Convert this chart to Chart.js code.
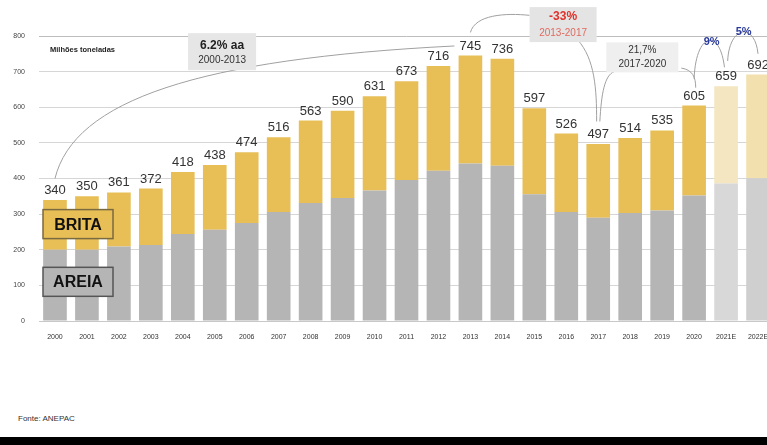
<!DOCTYPE html>
<html>
<head>
<meta charset="utf-8">
<script src="https://cdn.jsdelivr.net/npm/chart.js@4"></script>
<style>
  html, body { margin: 0; padding: 0; background: #fff; overflow: hidden; width: 767px; height: 445px; }
  #wrap { position: absolute; left: 0; top: 0; width: 780px; height: 345px; }
  #fonte { position: absolute; left: 18px; top: 414px; font: 8px "Liberation Sans", Arial, sans-serif; color: #333; }
  #band { position: absolute; left: 0; top: 437px; width: 767px; height: 8px; background: #000; }
</style>
</head>
<body>
<div id="wrap"><canvas id="prod_chart" width="780" height="345"></canvas></div>
<div id="fonte">Fonte: ANEPAC</div>
<div id="band"></div>
<script>
const years = ["2000", "2001", "2002", "2003", "2004", "2005", "2006", "2007", "2008", "2009", "2010",
  "2011", "2012", "2013", "2014", "2015", "2016", "2017", "2018", "2019", "2020", "2021E", "2022E"];
const areia = [200, 200, 209, 213, 244, 256, 275, 306, 331, 345, 366, 396, 422, 442, 436, 356, 306, 290, 303, 310, 352, 386, 401];
const brita = [140, 150, 152, 159, 174, 182, 199, 210, 232, 245, 265, 277, 294, 303, 300, 241, 220, 207, 211, 225, 253, 273, 291];
const totals = [340, 350, 361, 372, 418, 438, 474, 516, 563, 590, 631, 673, 716, 745, 736, 597, 526, 497, 514, 535, 605, 659, 692];
const yTicks = [0, 100, 200, 300, 400, 500, 600, 700, 800];

(function () {
  const FONT = '"Liberation Sans", Arial, sans-serif';

  // estimates (2021E / 2022E) are drawn paler
  const britaColors = years.map((y, i) => i === 21 ? "#f4e6c0" : i === 22 ? "#f2e0ae" : "#e8bf57");
  const areiaColors = years.map((y, i) => i === 21 ? "#d8d8d8" : i === 22 ? "#cfcfcf" : "#b5b5b5");

  const annotations = {
    id: "annotations",
    afterDatasetsDraw(chart) {
      const c = chart.ctx;
      const xs = chart.scales.x, ys = chart.scales.y;
      const step = xs.getPixelForValue(1) - xs.getPixelForValue(0);
      const X = (i) => xs.getPixelForValue(0) + i * step;
      const Y = (v) => ys.getPixelForValue(v);

      // totals above bars
      c.save();
      c.font = "13px " + FONT;
      c.fillStyle = "#333";
      c.textAlign = "center";
      c.textBaseline = "bottom";
      totals.forEach((t, i) => c.fillText(String(t), X(i), Y(t) - 3));

      c.font = "bold 7.5px " + FONT;
      c.textAlign = "left";
      c.textBaseline = "middle";
      c.fillStyle = "#222";
      c.fillText("Milhões toneladas", chart.chartArea.left + 11, chart.chartArea.top + 14);

      // curves
      c.strokeStyle = "#a0a0a0";
      c.lineWidth = 1;
      function curve(a, b, d, e) {
        c.beginPath();
        c.moveTo(X(a[0]), Y(a[1]));
        c.bezierCurveTo(X(b[0]), Y(b[1]), X(d[0]), Y(d[1]), X(e[0]), Y(e[1]));
        c.stroke();
      }
      curve([0, 400], [0.6, 620], [4.5, 736], [12.5, 772]);
      curve([13, 810], [13.15, 860], [14.1, 865], [14.85, 858]);
      curve([16.35, 790], [16.9, 735], [16.95, 650], [16.95, 560]);
      curve([17.05, 560], [17.1, 640], [17.2, 690], [17.5, 700]);
      curve([19.6, 710], [19.95, 705], [20.05, 685], [20.05, 655]);
      curve([20.0, 680], [20.05, 810], [20.8, 825], [20.95, 712]);
      curve([21.05, 730], [21.1, 830], [21.9, 840], [22.0, 750]);

      function box(i, v, w, h, fill) {
        c.fillStyle = fill;
        c.fillRect(X(i) - w / 2, Y(v) - h / 2, w, h);
      }
      function text(s, i, v, font, color) {
        c.font = font;
        c.fillStyle = color;
        c.textAlign = "center";
        c.textBaseline = "middle";
        c.fillText(s, X(i), Y(v));
      }
      box(5.23, 756, 68, 37, "#e6e6e6");
      text("6.2% aa", 5.23, 773, "bold 12px " + FONT, "#222");
      text("2000-2013", 5.23, 732, "10px " + FONT, "#333");

      box(15.9, 832, 67, 35, "#e4e4e4");
      text("-33%", 15.9, 853, "bold 12px " + FONT, "#e0302a");
      text("2013-2017", 15.9, 807, "10px " + FONT, "#e06a60");

      box(18.38, 740, 72, 30, "#efefef");
      text("21,7%", 18.38, 741 + 18, "10px " + FONT, "#333");
      text("2017-2020", 18.38, 741 - 20, "10px " + FONT, "#333");

      text("9%", 20.55, 782, "bold 11px " + FONT, "#2a3a9a");
      text("5%", 21.55, 810, "bold 11px " + FONT, "#2a3a9a");

      // legend-like labels
      function tag(s, v, fill, border) {
        const x0 = chart.chartArea.left + 4, w = 70, h = 29;
        c.fillStyle = fill;
        c.fillRect(x0, Y(v) - h / 2, w, h);
        c.strokeStyle = border;
        c.lineWidth = 1.5;
        c.strokeRect(x0, Y(v) - h / 2, w, h);
        c.font = "bold 16px " + FONT;
        c.fillStyle = "#111";
        c.textAlign = "center";
        c.textBaseline = "middle";
        c.fillText(s, x0 + w / 2, Y(v) + 1);
      }
      tag("BRITA", 272, "#e8bf57", "#7a6a40");
      tag("AREIA", 110, "#b5b5b5", "#555");
      c.restore();
    },
  };

  function prodChart() {
    const ctx = document.getElementById("prod_chart").getContext("2d");
    new Chart(ctx, {
      type: "bar",
      data: {
        labels: years,
        datasets: [
          { label: "AREIA", data: areia, backgroundColor: areiaColors, borderWidth: 0 },
          { label: "BRITA", data: brita, backgroundColor: britaColors, borderWidth: 0 },
        ],
      },
      options: {
        responsive: false,
        animation: false,
        devicePixelRatio: 1,
        layout: { padding: { left: 0, top: 36, right: 6, bottom: 0 } },
        datasets: { bar: { barPercentage: 0.74, categoryPercentage: 1 } },
        plugins: { legend: { display: false }, tooltip: { enabled: false } },
        scales: {
          x: {
            stacked: true,
            grid: { display: false },
            border: { display: true, color: "#c8c8c8" },
            ticks: { color: "#333", font: { family: FONT, size: 7 }, padding: 4, maxRotation: 0, autoSkip: false },
            afterFit(s) { s.height = 24; },
          },
          y: {
            stacked: true,
            min: 0,
            max: 800,
            afterBuildTicks(s) { s.ticks = yTicks.map((v) => ({ value: v })); },
            grid: { color: (g) => g.tick.value === 800 ? "#bdbdbd" : "#d6d6d6", drawTicks: false },
            border: { display: false },
            ticks: { color: "#444", font: { family: FONT, size: 7 }, padding: 14 },
            afterFit(s) { s.width = 39; },
          },
        },
      },
      plugins: [annotations],
    });
  }
  prodChart();
})();
</script>
</body>
</html>
